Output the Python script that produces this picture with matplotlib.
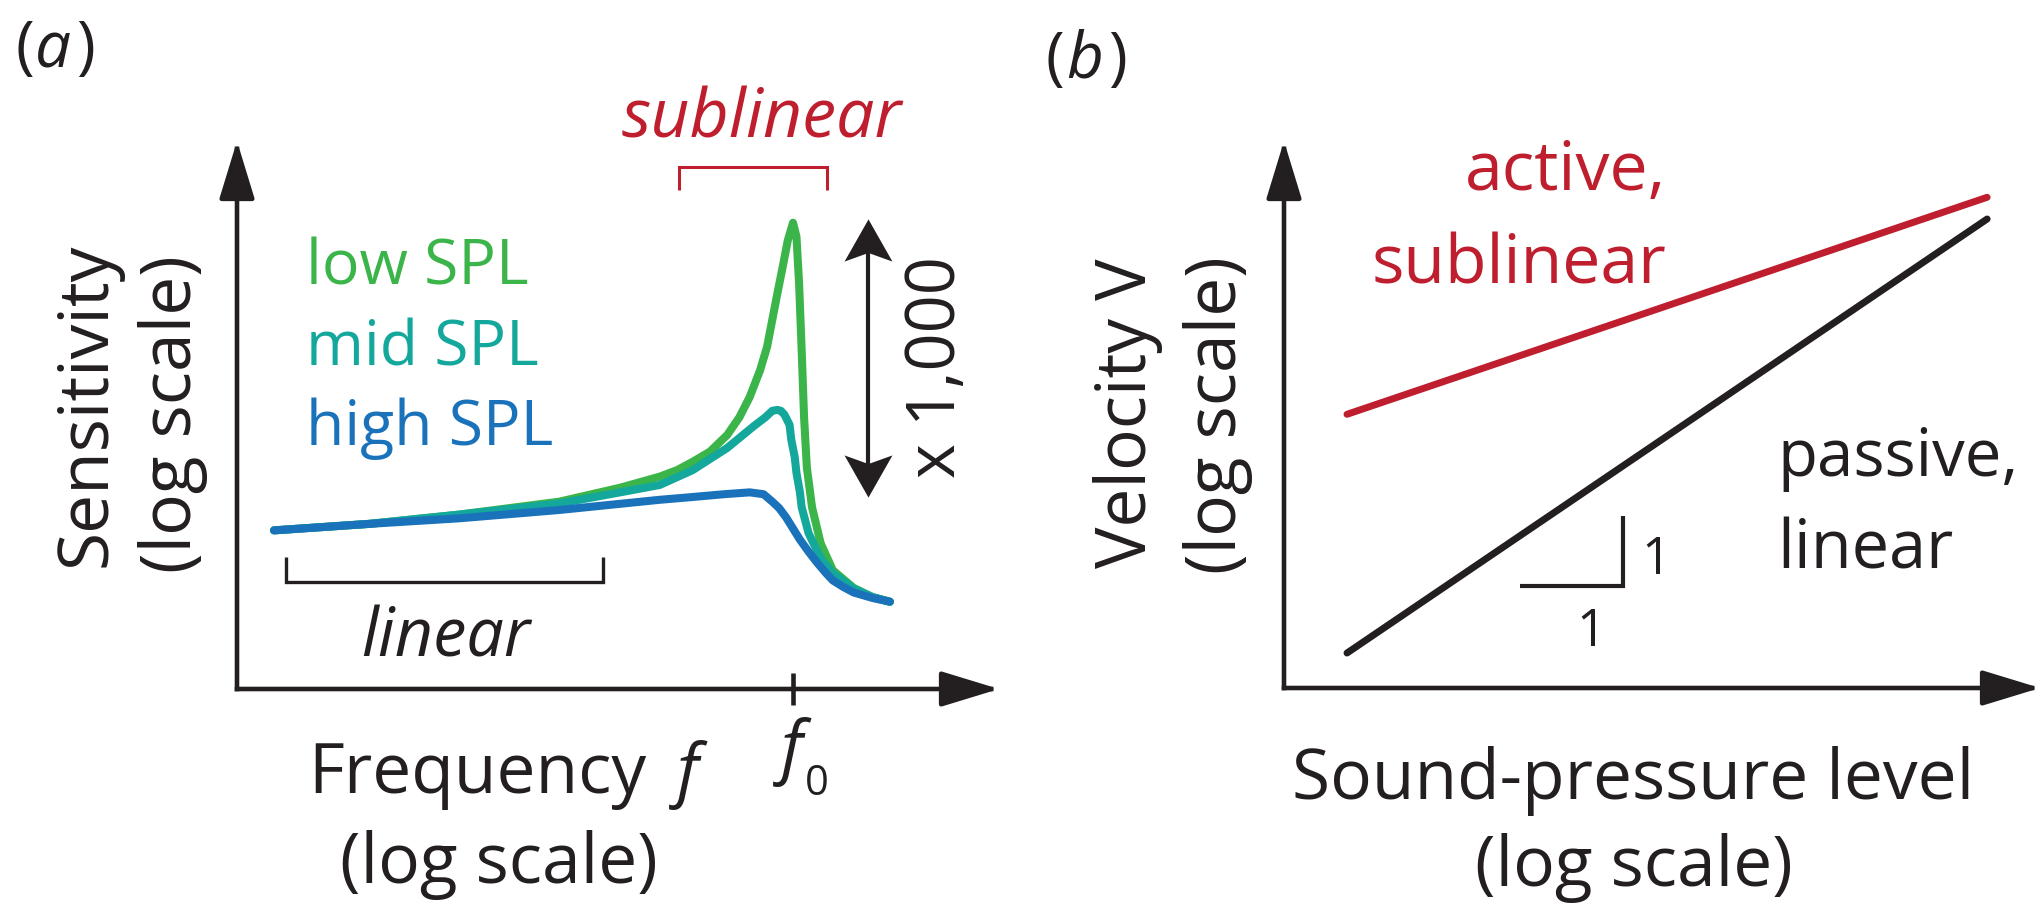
import matplotlib.pyplot as plt
from matplotlib.patches import FancyArrowPatch
from matplotlib.path import Path
from matplotlib.transforms import Affine2D

W, H = 2041, 905
plt.rcParams['font.family'] = ['Open Sans', 'DejaVu Sans']

GREEN = '#3bb44a'
TEAL = '#14a89c'
BLUE = '#1a73ba'
RED = '#be1e2d'
INK = '#231f20'
FS = 46        # labels inside the plots
FS_AX = 50     # axis titles

# (a) sensitivity (log10, arb.) against log10(f / f0) for three sound levels
low_f = [-3.0, -2.45, -1.93, -1.35, -1.0, -0.77, -0.67, -0.58, -0.48, -0.38, -0.31,
         -0.25, -0.19, -0.15, -0.12, -0.09, -0.06, -0.03, 0.0, 0.02, 0.035, 0.05,
         0.064, 0.08, 0.11, 0.16, 0.23, 0.35, 0.46, 0.56]
low_s = [-0.36, -0.29, -0.19, -0.05, 0.10, 0.22, 0.29, 0.38, 0.49, 0.67, 0.86,
         1.08, 1.37, 1.62, 1.91, 2.20, 2.48, 2.77, 2.96, 2.81, 2.31, 1.59,
         0.86, 0.32, -0.11, -0.50, -0.79, -0.98, -1.08, -1.13]
mid_f = [-3.0, -2.45, -1.93, -1.35, -1.0, -0.77, -0.58, -0.38, -0.23, -0.16, -0.12,
         -0.09, -0.07, -0.05, -0.02, -0.01, 0.01, 0.02, 0.04, 0.05, 0.09, 0.16,
         0.23, 0.35, 0.46, 0.56]
mid_s = [-0.36, -0.29, -0.19, -0.07, 0.05, 0.13, 0.29, 0.53, 0.76, 0.86, 0.93,
         0.94, 0.93, 0.89, 0.78, 0.62, 0.43, 0.26, 0.05, -0.11, -0.39, -0.66,
         -0.82, -0.99, -1.08, -1.13]
high_f = [-3.0, -2.45, -1.93, -1.35, -0.77, -0.58, -0.40, -0.25, -0.17, -0.12,
          -0.08, -0.04, 0.0, 0.04, 0.09, 0.14, 0.19, 0.23, 0.29, 0.35, 0.46, 0.56]
high_s = [-0.36, -0.29, -0.23, -0.14, -0.03, 0.0, 0.03, 0.05, 0.03, -0.05,
          -0.12, -0.22, -0.34, -0.46, -0.59, -0.71, -0.82, -0.90, -0.97, -1.03, -1.09, -1.13]
spl_names = ['low SPL', 'mid SPL', 'high SPL']

# (b) velocity against sound-pressure level, both log10 (arb.)
spl = [0, 10]
v_passive = [0, 10]
v_active = [5.5, 10.5]

fig = plt.figure(figsize=(W / 100, H / 100), dpi=100)
# pixel coords measured from the top-left corner
P = Affine2D().scale(1 / W, -1 / H).translate(0, 1) + fig.transFigure

# notched arrowheads for the double arrow
CODES = [Path.MOVETO, Path.LINETO, Path.LINETO, Path.LINETO, Path.CLOSEPOLY]
HEAD_UP = Path([(0, 0.44), (-0.5, -0.44), (0, -0.26), (0.5, -0.44), (0, 0.44)], CODES)
HEAD_DOWN = Path([(0, -0.44), (-0.5, 0.44), (0, 0.26), (0.5, 0.44), (0, -0.44)], CODES)


def box_axes(left, top, right, bottom):
    ax = fig.add_axes([left / W, 1 - bottom / H, (right - left) / W, (bottom - top) / H])
    ax.axis('off')
    return ax


def axis_arrow(x0, y0, x1, y1):
    fig.add_artist(FancyArrowPatch(
        (x0, y0), (x1, y1), transform=P,
        arrowstyle='-|>,head_length=3.6,head_width=1.1', mutation_scale=10,
        lw=3.3, color=INK, shrinkA=0, shrinkB=0, capstyle='projecting'))


def txt(x, y, s, **kw):
    kw.setdefault('fontsize', FS)
    kw.setdefault('color', INK)
    kw.setdefault('va', 'baseline')
    fig.text(x, y, s, transform=P, **kw)


def vtxt(x, y, s, **kw):
    txt(x, y, s, rotation=90, rotation_mode='anchor', ha='center', **kw)


def seg(xs, ys, **kw):
    fig.add_artist(plt.Line2D(xs, ys, transform=P, solid_capstyle='butt',
                              solid_joinstyle='miter', **kw))


# ---------------- panel (a)
ax_a = box_axes(237, 141, 998, 689)
ax_a.set_xlim(-3.214, 1.185)
ax_a.set_ylim(-2.072, 3.842)
for f, s, c in [(low_f, low_s, GREEN), (mid_f, mid_s, TEAL), (high_f, high_s, BLUE)]:
    ax_a.plot(f, s, color=c, lw=5.8, solid_capstyle='round', solid_joinstyle='round',
              clip_on=False)

axis_arrow(237, 689, 237, 141)
axis_arrow(237, 689, 999, 689)
seg([793, 793], [673, 705], color=INK, lw=3.3)

for name, c, yb in zip(spl_names, [GREEN, TEAL, BLUE], [284, 365, 445]):
    txt(306, yb, name, color=c, fontsize=45)

# x1000 span between low- and high-SPL peaks
seg([868, 868], [236, 480], color=INK, lw=3)
for y, head in [(240, HEAD_UP), (476, HEAD_DOWN)]:
    fig.add_artist(plt.Line2D([868], [y], transform=P, ls='none', marker=head,
                              ms=34.5, mew=0, color=INK))
vtxt(955, 367, 'x 1,000', fontsize=48)

seg([286, 286, 603, 603], [557, 582, 582, 557], color=INK, lw=2.4)
txt(446, 656, 'linear', style='italic', ha='center', fontsize=48)
seg([679, 679, 827, 827], [190, 167, 167, 190], color=RED, lw=2.2)
txt(762, 137, 'sublinear', style='italic', color=RED, ha='center', fontsize=49)

vtxt(105, 405, 'Sensitivity', fontsize=FS_AX)
vtxt(191, 414, '(log scale)', fontsize=FS_AX)
txt(308, 793, 'Frequency', fontsize=FS_AX)
txt(688, 793, 'f', style='italic', ha='center', fontsize=FS_AX)
txt(792, 770, 'f', style='italic', ha='center', fontsize=FS_AX)
txt(817, 795, '0', ha='center', fontsize=30)
txt(499, 883, '(log scale)', ha='center', fontsize=FS_AX)
txt(15, 67, '(', fontsize=46)
txt(53, 67, 'a', style='italic', ha='center', fontsize=46)
txt(76, 67, ')', fontsize=46)

# ---------------- panel (b)
ax_b = box_axes(1284, 141, 2039, 688)
ax_b.set_xlim(-0.984, 10.81)
ax_b.set_ylim(-0.806, 11.797)
ax_b.plot(spl, v_active, color=RED, lw=5, solid_capstyle='round', clip_on=False)
ax_b.plot(spl, v_passive, color=INK, lw=5, solid_capstyle='round', clip_on=False)

axis_arrow(1284, 688, 1284, 141)
axis_arrow(1284, 688, 2040, 688)

seg([1520, 1623, 1623], [586, 586, 516], color=INK, lw=3)
txt(1641, 574, '1', fontsize=37)
txt(1576, 646, '1', fontsize=37)

txt(1666, 190, 'active,', color=RED, ha='right', fontsize=49)
txt(1666, 283, 'sublinear', color=RED, ha='right', fontsize=49)
txt(1777, 476, 'passive,', fontsize=47)
txt(1777, 568, 'linear', fontsize=48)

vtxt(1146, 413, 'Velocity V', fontsize=FS_AX)
vtxt(1236, 415, '(log scale)', fontsize=FS_AX)
txt(1633, 799, 'Sound-pressure level', ha='center', fontsize=FS_AX)
txt(1634, 886, '(log scale)', ha='center', fontsize=FS_AX)
txt(1046, 78, '(', fontsize=46)
txt(1085, 78, 'b', style='italic', ha='center', fontsize=46)
txt(1108, 78, ')', fontsize=46)

fig.savefig('out.png', dpi=100, facecolor='white')
